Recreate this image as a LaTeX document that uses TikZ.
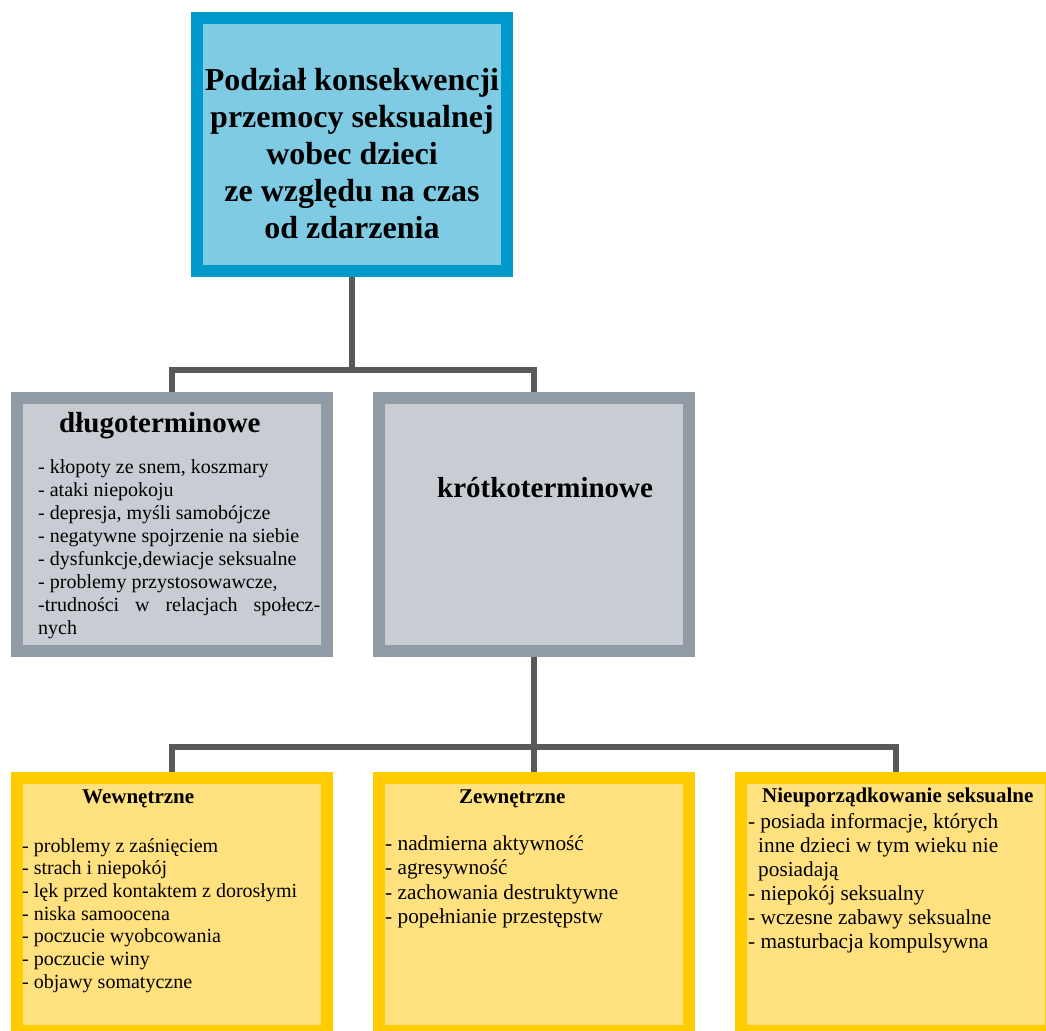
\documentclass[tikz,border=0pt]{standalone}
\usepackage{fontspec}
\setmainfont{Liberation Serif}
\usetikzlibrary{positioning}
\definecolor{rootedge}{RGB}{0,153,204}
\definecolor{rootfill}{RGB}{127,203,227}
\definecolor{grayedge}{RGB}{145,155,165}
\definecolor{grayfill}{RGB}{200,205,212}
\definecolor{yellowedge}{RGB}{255,204,0}
\definecolor{yellowfill}{RGB}{255,225,128}
\definecolor{linkgray}{RGB}{89,89,89}
\def\bodyfont{\fontsize{20}{23}\selectfont}
\def\largefont{\fontsize{21.3}{24}\selectfont}
\def\headfont{\fontsize{21}{24}\selectfont\bfseries}

\begin{document}
\begin{tikzpicture}[x=1pt,y=-1pt,
box/.style={line width=12pt,minimum width=310pt,minimum height=253pt,inner sep=0pt},
rootbox/.style={box,draw=rootedge,fill=rootfill},
midbox/.style={box,draw=grayedge,fill=grayfill},
leafbox/.style={box,draw=yellowedge,fill=yellowfill},
link/.style={line width=6pt,draw=linkgray},
item/.style={anchor=base west,inner sep=0pt,font=\bodyfont},
bigitem/.style={anchor=base west,inner sep=0pt,font=\largefont},
head/.style={anchor=base west,inner sep=0pt,font=\headfont},
midhead/.style={anchor=base west,inner sep=0pt,font=\fontsize{29}{32}\selectfont\bfseries}]
\useasboundingbox (0,0) rectangle (1046,1030);
\clip (0,0) rectangle (1046,1030);
%
\fill[white] (0,0) rectangle (1046,1030);
\node[rootbox] (root) at (352,144.5) {};
\node[midbox] (long) at (171.5,524.5) {};
\node[midbox, right=40pt of long] (short) {};
\node[leafbox] (inner) at (171.5,904.5) {};
\node[leafbox, right=40pt of inner] (outer) {};
\node[leafbox, right=40pt of outer] (sexual) {};
%
\coordinate (j1) at (352,370);
\coordinate (j2) at (533.5,747);
\draw[link] (root.south) -- (j1);
\draw[link] (j1) -| (long.north);
\draw[link] (j1) -| (short.north);
\draw[link] (short.south) -- (j2);
\draw[link] (j2) -| (inner.north);
\draw[link] (j2) -- (outer.north);
\draw[link] (j2) -| (sexual.north);
%
\foreach \t [count=\i] in {Podział konsekwencji,przemocy seksualnej,wobec dzieci,ze względu na czas,od zdarzenia}{
\node[anchor=base,inner sep=0pt,font=\fontsize{32}{36}\selectfont\bfseries] (title\i) at (352,91+36.8*\i-36.8) {\t};
}
%
\node[midhead] (longhead) at (59,432) {długoterminowe};
\node[midhead] (shorthead) at (437,497) {krótkoterminowe};
\foreach \t [count=\i] in {{- kłopoty ze snem, koszmary},- ataki niepokoju,{- depresja, myśli samobójcze},- negatywne spojrzenie na siebie,{- dysfunkcje,dewiacje seksualne},{- problemy przystosowawcze,},{\makebox[282pt][s]{-trudności w relacjach społecz-}},nych}{
\node[item] (long\i) at (38,473+23.1*\i-23.1) {\t};
}
%
\node[head] (innerhead) at (82,803) {Wewnętrzne};
\foreach \t [count=\i] in {- problemy z zaśnięciem,- strach i niepokój,- lęk przed kontaktem z dorosłymi,- niska samoocena,- poczucie wyobcowania,- poczucie winy,- objawy somatyczne}{
\node[item] (inner\i) at (22,852+22.7*\i-22.7) {\t};
}
\node[head] (outerhead) at (459,803) {Zewnętrzne};
\foreach \t [count=\i] in {- nadmierna aktywność,- agresywność,- zachowania destruktywne,- popełnianie przestępstw}{
\node[bigitem] (outer\i) at (385,850+24.6*\i-24.6) {\t};
}
\node[head] (sexualhead) at (762,802) {Nieuporządkowanie seksualne};
\node[bigitem] (sexual1) at (748,828) {\makebox[250pt][s]{- posiada informacje, których}};
\node[bigitem] (sexual2) at (758,852) {\makebox[240pt][s]{inne dzieci w tym wieku nie}};
\node[bigitem] (sexual3) at (758,876) {posiadają};
\foreach \t [count=\i] in {- niepokój seksualny,- wczesne zabawy seksualne,- masturbacja kompulsywna}{
\node[bigitem] (sexual\i b) at (748,876+24*\i) {\t};
}
\end{tikzpicture}
\end{document}
